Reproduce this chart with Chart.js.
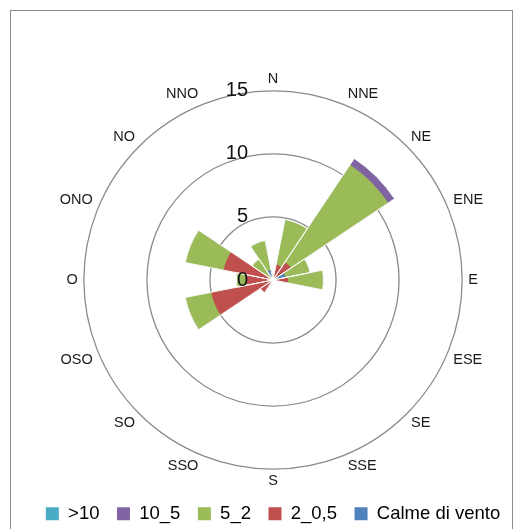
<!DOCTYPE html>
<html>
<head>
<meta charset="utf-8">
<script src="https://cdn.jsdelivr.net/npm/chart.js@4/dist/chart.umd.min.js"></script>
<style>
    html, body { margin: 0; padding: 0; background: #fff; overflow: hidden; }
    .frame { position: absolute; left: 10px; top: 10px; width: 501px; height: 540px; border: 1px solid #8c8c8c; }
    .wrap { position: absolute; left: 15px; top: 0; width: 516px; height: 533px; }
</style>
</head>
<body>
<div class="frame"></div>
<div class="wrap"><canvas id="chart-rose"></canvas></div>
<script>
// wind rose - stacked by speed class
const DIRECTIONS = ['N', 'NNE', 'NE', 'ENE', 'E', 'ESE', 'SE', 'SSE', 'S', 'SSO', 'SO', 'OSO', 'O', 'ONO', 'NO', 'NNO'];
const SERIES_NAMES = ['>10', '10_5', '5_2', '2_0,5', 'Calme di vento'];
const SERIES_COLORS = ['#4BACC6', '#8064A2', '#9BBB59', '#C0504D', '#4F81BD'];

const calme = [0, 0, 0, 1.0, 0, 0, 0, 0, 0, 0, 0, 0, 0, 0, 0, 0.8];
const v2_05 = [0, 1.25, 1.7, 0, 1.2, 0, 0, 0, 0, 0, 1.2, 5.0, 2.1, 4.0, 0, 0];
const v5_2 = [0, 3.65, 9.3, 2.0, 2.8, 0, 0, 0, 0, 0, 0, 2.1, 0.8, 3.1, 2.0, 2.4];
const v10_5 = [0, 0, 0.6, 0, 0, 0, 0, 0, 0, 0, 0, 0, 0, 0, 0, 0];
const gt10 = [0, 0, 0, 0, 0, 0, 0, 0, 0, 0, 0, 0, 0, 0, 0, 0];

const R_TICKS = [0, 5, 10, 15];

// stack from the center outwards: calme, 2_0,5, 5_2, 10_5, >10
const stackOrder = [calme, v2_05, v5_2, v10_5, gt10];
const stackColors = ['#4F81BD', '#C0504D', '#9BBB59', '#8064A2', '#4BACC6'];
const cumulative = [];
stackOrder.reduce((acc, arr) => {
    const next = arr.map((v, i) => acc[i] + v);
    cumulative.push(next);
    return next;
}, DIRECTIONS.map(() => 0));

// polarArea draws dataset 0 on top, so inner rings go first
const datasets = cumulative.map((data, i) => ({
    label: 'cum' + i,
    data,
    backgroundColor: stackColors[i],
    borderColor: stackColors[i],
    borderWidth: 0,
}));
// thin white separators between the direction wedges
datasets.unshift({
    label: 'sep',
    data: cumulative[cumulative.length - 1],
    backgroundColor: 'rgba(0,0,0,0)',
    borderColor: '#ffffff',
    borderWidth: 1,
});

const tickLabelPlugin = {
    id: 'roseTicks',
    afterDraw(chart) {
        const r = chart.scales.r;
        const ctx = chart.ctx;
        ctx.save();
        ctx.font = '20px "Liberation Sans", Arial, sans-serif';
        ctx.fillStyle = '#111';
        ctx.textAlign = 'right';
        ctx.textBaseline = 'middle';
        R_TICKS.forEach(t => {
            const d = r.getDistanceFromCenterForValue(t);
            ctx.fillText(String(t), r.xCenter - 25, r.yCenter - d);
        });
        ctx.restore();
    },
};

const canvas = document.getElementById('chart-rose');
new Chart(canvas.getContext('2d'), {
    type: 'polarArea',
    data: { labels: DIRECTIONS, datasets },
    plugins: [tickLabelPlugin],
    options: {
        responsive: true,
        maintainAspectRatio: false,
        animation: false,
        layout: { padding: { top: 74, left: 0, right: 0, bottom: 0 } },
        plugins: {
            tooltip: { enabled: false },
            legend: {
                position: 'bottom',
                labels: {
                    boxWidth: 13,
                    boxHeight: 13,
                    padding: 17.5,
                    color: '#111',
                    font: { family: '"Liberation Sans", Arial, sans-serif', size: 18.5 },
                    generateLabels: () => SERIES_NAMES.map((name, i) => ({
                        text: name,
                        fillStyle: SERIES_COLORS[i],
                        strokeStyle: SERIES_COLORS[i],
                        lineWidth: 0,
                        hidden: false,
                        index: i,
                    })),
                },
                onClick: () => {},
            },
        },
        scales: {
            r: {
                min: 0,
                max: 15,
                startAngle: -11.25,
                ticks: { display: false, stepSize: 5 },
                grid: { circular: true, color: '#8a8a8a', lineWidth: 1.3 },
                angleLines: { display: false },
                pointLabels: {
                    display: true,
                    centerPointLabels: true,
                    padding: 6,
                    color: '#1a1a1a',
                    font: { family: '"Liberation Sans", Arial, sans-serif', size: 14.5, lineHeight: 0.75 },
                },
            },
        },
    },
});
</script>
</body>
</html>
